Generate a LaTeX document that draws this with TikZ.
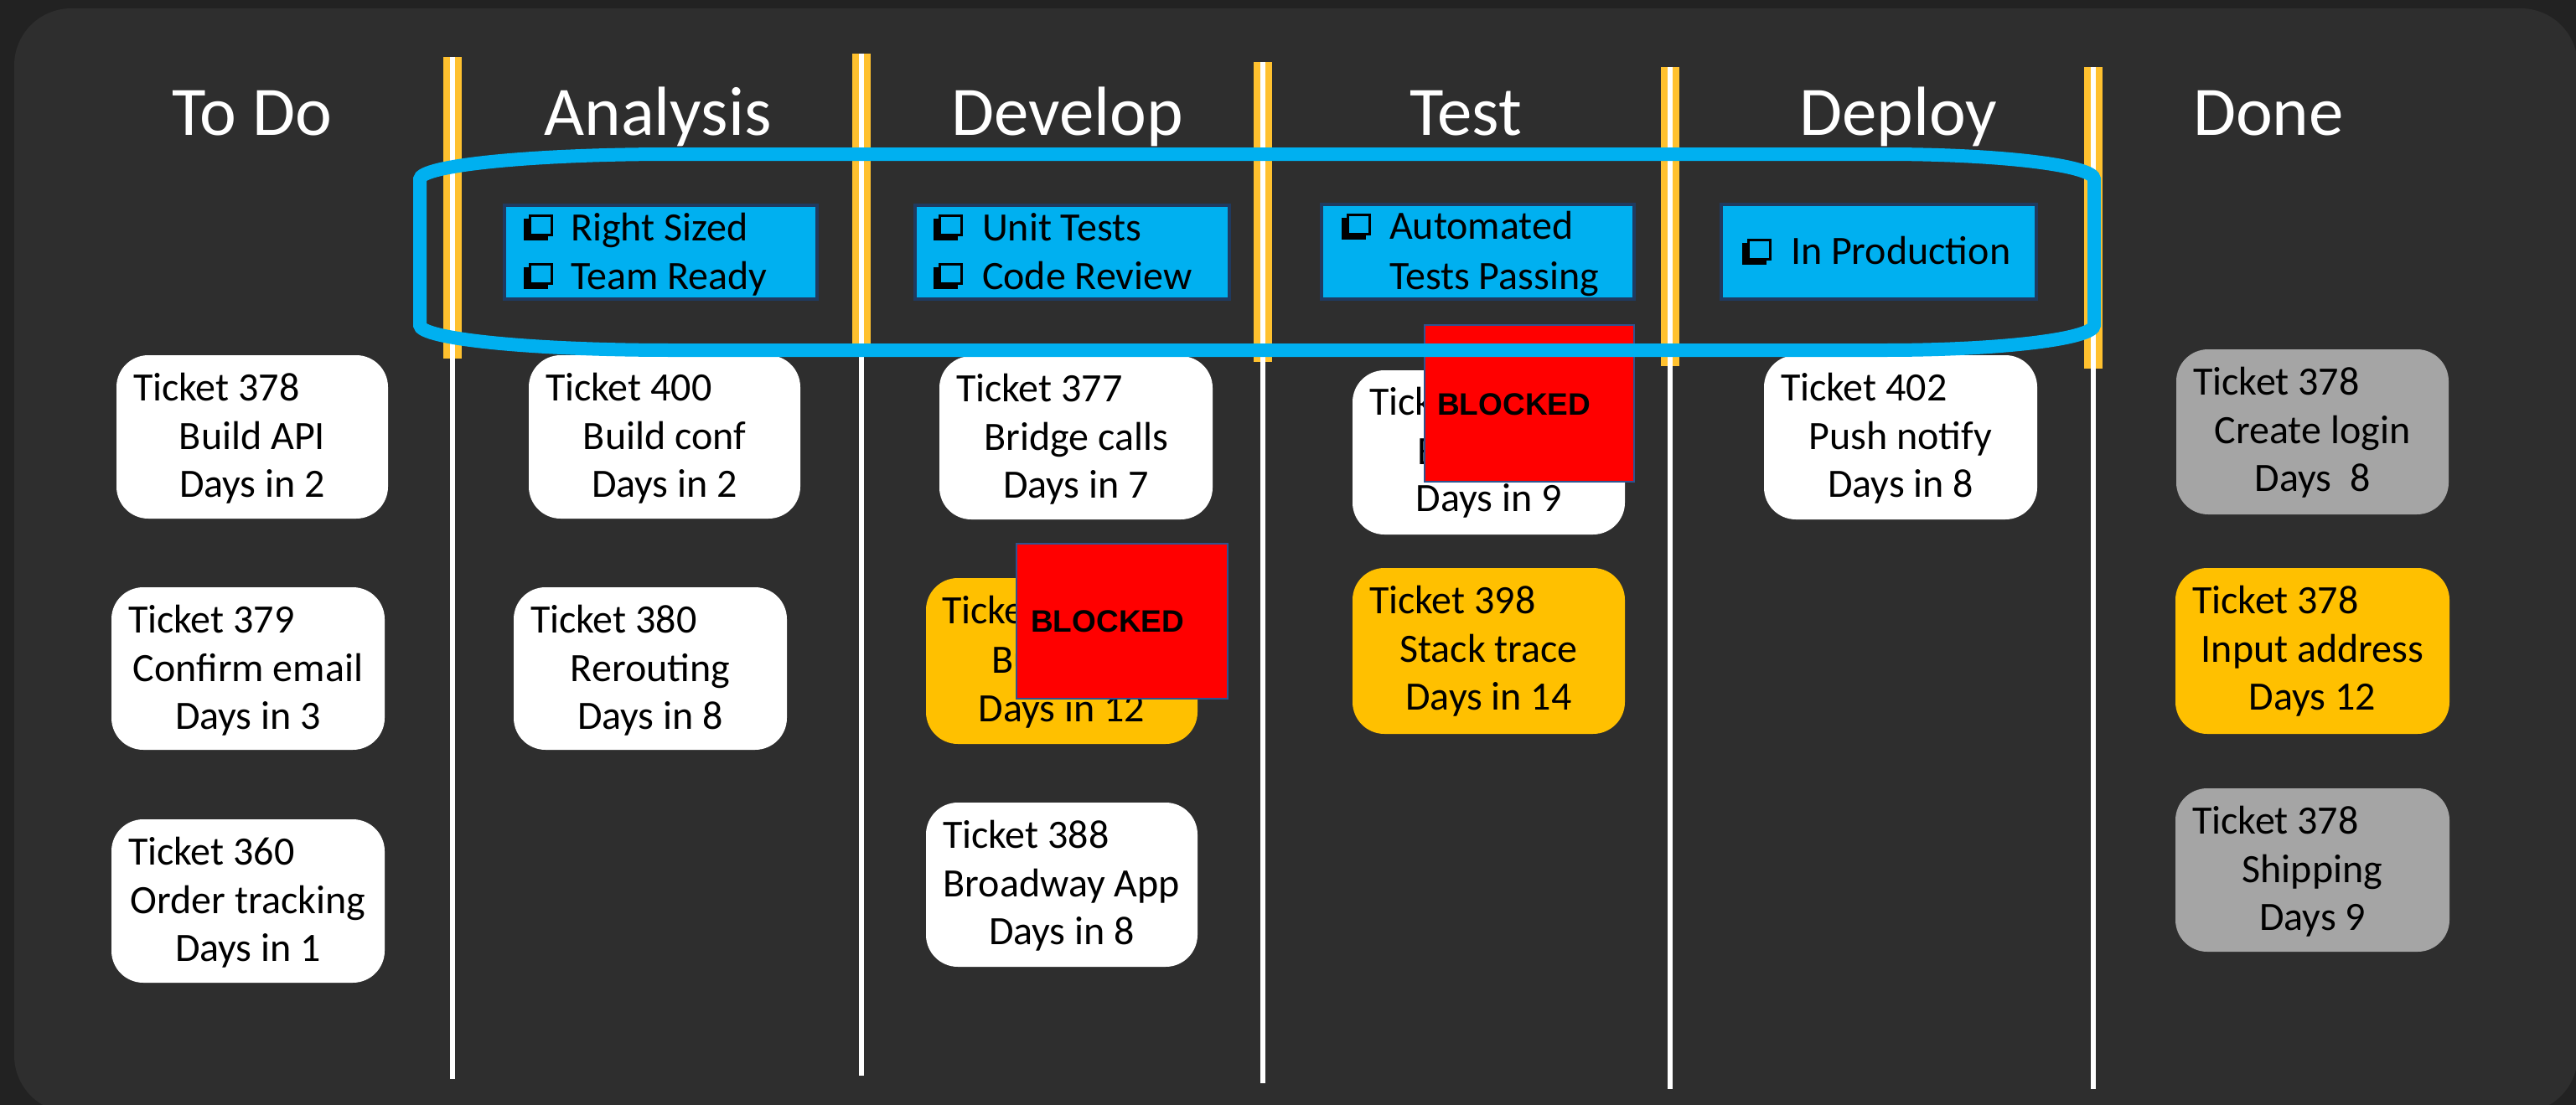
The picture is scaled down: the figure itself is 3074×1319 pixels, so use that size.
\documentclass[tikz,border=0pt]{standalone}
\usepackage{fontspec}
\setmainfont{Carlito}
\newfontfamily\arialfont{Liberation Sans}
\definecolor{outerbg}{HTML}{222222}
\definecolor{innerbg}{HTML}{2E2E2E}
\definecolor{cblue}{HTML}{00B0F0}
\definecolor{navy}{HTML}{1F3A60}
\definecolor{rednavy}{HTML}{2F528F}
\definecolor{sepor}{HTML}{FFC12F}
\definecolor{corange}{HTML}{FFC000}
\definecolor{cgray}{HTML}{A5A5A5}
\definecolor{cred}{HTML}{FF0000}
\tikzset{
  cardbox/.style={rounded corners=38pt, inner sep=0pt, outer sep=0pt, draw=none},
  cardtxt/.style={font=\fontsize{48}{48}\selectfont, text=black, inner sep=0pt, outer sep=0pt},
  hdr/.style={font=\fontsize{83}{83}\selectfont, text=white, inner sep=0pt, anchor=base},
  chkbox/.style={fill=cblue, draw=navy, line width=4pt, inner sep=0pt, outer sep=0pt},
  blkbox/.style={fill=cred, draw=rednavy, line width=2pt, inner sep=0pt, outer sep=0pt},
  blktxt/.style={font=\arialfont\bfseries\fontsize{37}{37}\selectfont, text=black, inner sep=0pt, anchor=base west},
  sepbar/.style={fill=sepor},
  sepline/.style={draw=white, line width=6pt},
  wipline/.style={draw=cblue, line width=16pt}
}
\newcommand\tcard[9]{%
  \node[cardbox, fill=#6, minimum width={(#4-#2)*1pt}, minimum height={(#5-#3)*1pt}] (#1) at ({(#2+#4)/2},{(#3+#5)/2}) {};
  \node[cardtxt, anchor=base west] (#1a) at ({#2+20},{#3+54}) {#7};
  \node[cardtxt, anchor=base] (#1b) at ({(#2+#4)/2},{#3+112}) {#8};
  \node[cardtxt, anchor=base] (#1c) at ({(#2+#4)/2},{#3+169}) {#9};
}
\newcommand\mychk[2]{%
  \fill[black] (#1,{#2-26}) rectangle ({#1+29},{#2});
  \draw[black, line width=3pt, fill=cblue] ({#1+7.5},{#2-29.5}) rectangle ({#1+33.5},{#2-6.5});
}
\newcommand\mysep[4]{%
  \fill[sepbar] ({#1-11},#2) rectangle ({#1+11},#3);
  \draw[sepline] (#1,#2) -- (#1,#4);
}
\begin{document}
\begin{tikzpicture}[x=1pt,y=-1pt]
\useasboundingbox (0,0) rectangle (3074,1319);
% background
\fill[outerbg] (0,0) rectangle (3074,1319);
\fill[innerbg, rounded corners=68pt] (17,10) rectangle (3076,1328);
% headers
\node[hdr] (hTodo) at (301,162) {To Do};
\node[hdr] (hAna) at (785,162) {Analysis};
\node[hdr] (hDev) at (1274,162) {Develop};
\node[hdr] (hTest) at (1749,162) {Test};
\node[hdr] (hDep) at (2265,162) {Deploy};
\node[hdr] (hDone) at (2707,162) {Done};
% separators
\mysep{540}{68}{428}{1288}
\mysep{1028}{64}{418}{1284}
\mysep{1507}{74}{432}{1293}
\mysep{1993}{80}{437}{1300}
\mysep{2498}{80}{440}{1300}
% cards
\tcard{todoA}{139}{424}{463}{619}{white}{Ticket 378}{Build API}{Days in 2}
\tcard{todoB}{133}{701}{459}{895}{white}{Ticket 379}{Confirm email}{Days in 3}
\tcard{todoC}{133}{978}{459}{1173}{white}{Ticket 360}{Order tracking}{Days in 1}
\tcard{anaA}{631}{424}{955}{619}{white}{Ticket 400}{Build conf}{Days in 2}
\tcard{anaB}{613}{701}{939}{895}{white}{Ticket 380}{Rerouting}{Days in 8}
\tcard{devA}{1121}{425}{1447}{620}{white}{Ticket 377}{Bridge calls}{Days in 7}
\tcard{devC}{1105}{958}{1429}{1154}{white}{Ticket 388}{Broadway App}{Days in 8}
\tcard{testB}{1614}{678}{1939}{876}{corange}{Ticket 398}{Stack trace}{Days in 14}
\tcard{depA}{2105}{424}{2431}{620}{white}{Ticket 402}{Push notify}{Days in 8}
\tcard{doneA}{2597}{417}{2922}{614}{cgray}{Ticket 378}{Create login}{Days\ \ 8}
\tcard{doneB}{2596}{678}{2923}{876}{corange}{Ticket 378}{Input address}{Days 12}
\tcard{doneC}{2596}{941}{2923}{1136}{cgray}{Ticket 378}{Shipping}{Days 9}
% partially hidden cards
\node[cardbox, fill=corange, minimum width=324pt, minimum height=198pt] (devB) at (1267,789) {};
\node[cardtxt, anchor=base west] (devBa) at (1124,744) {Ticke};
\node[cardtxt, anchor=base west] (devBb) at (1183,803) {Bu};
\node[cardtxt, anchor=base] (devBc) at (1267,861) {Days in 12};
\node[cardbox, fill=white, minimum width=325pt, minimum height=196pt] (testA) at (1776.5,540) {};
\node[cardtxt, anchor=base west] (testAa) at (1634,495) {Tick};
\node[cardtxt, anchor=base west] (testAb) at (1691,554) {B};
\node[cardtxt, anchor=base] (testAc) at (1776.5,610) {Days in 9};
% blocked stickers
\node[blkbox, minimum width=252pt, minimum height=185pt] (blkDev) at (1339,741.5) {};
\node[blktxt] (blkDevT) at (1230,754) {BLOCKED};
\node[blkbox, minimum width=250pt, minimum height=187pt] (blkTest) at (1825,481.5) {};
\node[blktxt] (blkTestT) at (1715,495) {BLOCKED};
% definition of done boxes
\node[chkbox, minimum width=373pt, minimum height=112pt] (dodAna) at (788.5,301) {};
\mychk{625}{287}
\node[cardtxt, anchor=base west] (dodAna1) at (681,287) {Right Sized};
\mychk{625}{345}
\node[cardtxt, anchor=base west] (dodAna2) at (681,345) {Team Ready};
\node[chkbox, minimum width=375pt, minimum height=112pt] (dodDev) at (1279.5,301) {};
\mychk{1114}{287}
\node[cardtxt, anchor=base west] (dodDev1) at (1172,287) {Unit Tests};
\mychk{1114}{345}
\node[cardtxt, anchor=base west] (dodDev2) at (1172,345) {Code Review};
\node[chkbox, minimum width=373pt, minimum height=113pt] (dodTest) at (1763.5,300.5) {};
\mychk{1601}{286}
\node[cardtxt, anchor=base west] (dodTest1) at (1658,285) {Automated};
\node[cardtxt, anchor=base west] (dodTest2) at (1658,345) {Tests Passing};
\node[chkbox, minimum width=376pt, minimum height=113pt] (dodDep) at (2242,300.5) {};
\mychk{2079}{316}
\node[cardtxt, anchor=base west] (dodDep1) at (2137,315) {In Production};
% blue outline
\draw[wipline] (801,184) -- (2249,184)
  arc[start angle=90, end angle=0, x radius=250pt, y radius=30pt]
  -- (2499,388)
  arc[start angle=0, end angle=-90, x radius=250pt, y radius=30pt]
  -- (801,418)
  arc[start angle=-90, end angle=-180, x radius=300pt, y radius=30pt]
  -- (501,214)
  arc[start angle=180, end angle=90, x radius=300pt, y radius=30pt]
  -- cycle;
\end{tikzpicture}
\end{document}
